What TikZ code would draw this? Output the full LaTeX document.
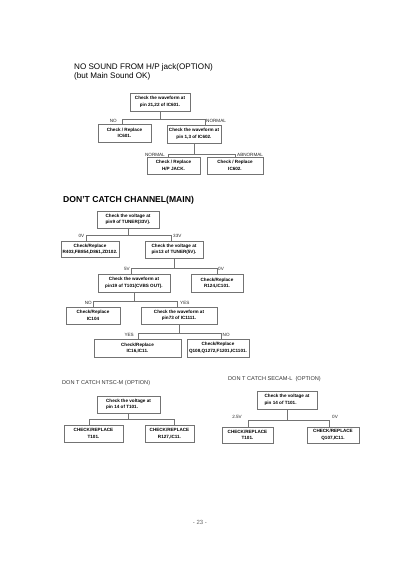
\documentclass[tikz,border=0pt]{standalone}
\usepackage{fontspec}
\setmainfont{Liberation Sans}
\begin{document}
\begin{tikzpicture}[x=1pt,y=-1pt,
  box/.style={draw=black!55, line width=0.6pt, fill=white, align=center, inner sep=0pt, font=\fontsize{4.6}{6.6}\selectfont\bfseries},
  conn/.style={draw=black!55, line width=0.6pt},
  lbl/.style={inner sep=0pt, font=\fontsize{4.6}{5}\selectfont, text=black!85},
  ttl/.style={anchor=base west, inner sep=0pt},
]
\useasboundingbox[fill=white] (0,0) rectangle (400,566);

% ---------- Section 1 ----------
\node[ttl, font=\fontsize{8.1}{9}\selectfont] (t1) at (74,69) {NO SOUND FROM H/P jack(OPTION)};
\node[ttl, font=\fontsize{8.1}{9}\selectfont] (t1b) at (74,78) {(but Main Sound OK)};

\node[box, minimum width=60pt, minimum height=18pt] (A) at (160,102) {Check the waveform at\\pin 21,22 of IC601.};
\node[box, minimum width=53pt, minimum height=18pt] (Bl) at (124.5,133) {Check / Replace\\IC601.};
\node[box, minimum width=54pt, minimum height=18pt] (B) at (194,134) {Check the waveform at\\pin 1,3 of IC602.};
\node[box, minimum width=53pt, minimum height=17pt] (C) at (173.5,165.5) {Check / Replace\\H/P JACK.};
\node[box, minimum width=56pt, minimum height=17pt] (D) at (235,165.5) {Check / Replace\\IC602.};

\coordinate (a1) at (122,119); \coordinate (a2) at (205,119);
\draw[conn] (A.south) -- (A.south |- a1);
\draw[conn] (a1) -- (a2);
\draw[conn] (a1) -- (a1 |- Bl.north);
\draw[conn] (a2) -- (a2 |- B.north);
\node[lbl, anchor=east] (lno1) at ([xshift=-5pt, yshift=-1.5pt]a1) {NO};
\node[lbl, anchor=west] (lnorm1) at ([xshift=1pt, yshift=-1.5pt]a2) {NORMAL};

\coordinate (b1) at (168,154); \coordinate (b2) at (235,154);
\draw[conn] (B.south) -- (B.south |- b1);
\draw[conn] (b1) -- (b2);
\draw[conn] (b1) -- (b1 |- C.north);
\draw[conn] (b2) -- (b2 |- D.north);
\node[lbl, anchor=east] (lnorm2) at ([xshift=-3pt, yshift=-1pt]b1) {NORMAL};
\node[lbl, anchor=west] (labn) at ([xshift=2pt, yshift=-1pt]b2) {ABNORMAL};

% ---------- Section 2 ----------
\node[ttl, font=\bfseries\fontsize{8.6}{10}\selectfont] (t2) at (63,202) {DON'T CATCH CHANNEL(MAIN)};

\node[box, minimum width=62pt, minimum height=17pt] (E) at (128,219.5) {Check the voltage at\\pin9 of TUNER(33V).};
\node[box, minimum width=58pt, minimum height=16pt] (F) at (90,249) {Check/Replace\\R403,FB854,D861,ZD102.};
\node[box, minimum width=58pt, minimum height=17pt] (G) at (174,249.5) {Check the voltage at\\pin13 of TUNER(5V).};
\node[box, minimum width=72pt, minimum height=18pt] (H) at (134,283) {Check the waveform at\\pin19 of T101(CVBS OUT).};
\node[box, minimum width=52pt, minimum height=18pt] (I) at (217,283) {Check/Replace\\R124,IC101.};
\node[box, minimum width=54pt, minimum height=17pt] (J) at (93,315.5) {Check/Replace\\IC104};
\node[box, minimum width=76pt, minimum height=17pt] (K) at (179,315.5) {Check the waveform at\\pin73 of IC1111.};
\node[box, minimum width=87pt, minimum height=18pt] (L) at (137.5,348) {Check/Replace\\IC16,IC11.};
\node[box, minimum width=62pt, minimum height=18pt] (M) at (218,348) {Check/Replace\\Q108,Q1272,F1201,IC1101.};

\coordinate (e1) at (86,235); \coordinate (e2) at (171,235);
\draw[conn] (E.south) -- (E.south |- e1);
\draw[conn] (e1) -- (e2);
\draw[conn] (e1) -- (e1 |- F.north);
\draw[conn] (e2) -- (e2 |- G.north);
\node[lbl, anchor=east] (l0v1) at ([xshift=-1.5pt, yshift=-0.5pt]e1) {0V};
\node[lbl, anchor=west] (l33v) at ([xshift=2pt, yshift=-0.5pt]e2) {33V};

\coordinate (g1) at (131,268); \coordinate (g2) at (217,268);
\draw[conn] (G.south) -- (G.south |- g1);
\draw[conn] (g1) -- (g2);
\draw[conn] (g1) -- (g1 |- H.north);
\draw[conn] (g2) -- (g2 |- I.north);
\node[lbl, anchor=east] (l5v) at ([xshift=-1pt, yshift=-1pt]g1) {5V};
\node[lbl, anchor=west] (l0v2) at ([xshift=1pt, yshift=-1pt]g2) {0V};

\coordinate (h1) at (93,301); \coordinate (h2) at (177,301);
\draw[conn] (H.south) -- (H.south |- h1);
\draw[conn] (h1) -- (h2);
\draw[conn] (h1) -- (h1 |- J.north);
\draw[conn] (h2) -- (h2 |- K.north);
\node[lbl, anchor=east] (lno2) at ([xshift=-1pt, yshift=-1.5pt]h1) {NO};
\node[lbl, anchor=west] (lyes1) at ([xshift=3pt, yshift=-1.5pt]h2) {YES};

\coordinate (k1) at (138,333); \coordinate (k2) at (221,333);
\draw[conn] (K.south) -- (K.south |- k1);
\draw[conn] (k1) -- (k2);
\draw[conn] (k1) -- (k1 |- L.north);
\draw[conn] (k2) -- (k2 |- M.north);
\node[lbl, anchor=east] (lyes2) at ([xshift=-4pt, yshift=-1.5pt]k1) {YES};
\node[lbl, anchor=west] (lno3) at ([xshift=1.5pt, yshift=-1.5pt]k2) {NO};

% ---------- Section 3 left ----------
\node[ttl, font=\fontsize{5.6}{7}\selectfont, text=black!80] (t3) at (62,384) {DON T CATCH NTSC-M (OPTION)};
\node[box, align=left, minimum width=63pt, minimum height=17pt] (N) at (128.5,404.5) {Check the voltage at\\pin 14 of T101.};
\node[box, minimum width=59pt, minimum height=17pt] (O) at (93.5,433.5) {CHECK/REPLACE\\T101.};
\node[box, minimum width=49pt, minimum height=17pt] (P) at (169.5,433.5) {CHECK/REPLACE\\R127,IC11.};
\coordinate (n1) at (89,419); \coordinate (n2) at (174,419);
\draw[conn] (N.south) -- (N.south |- n1);
\draw[conn] (n1) -- (n2);
\draw[conn] (n1) -- (n1 |- O.north);
\draw[conn] (n2) -- (n2 |- P.north);

% ---------- Section 3 right ----------
\node[ttl, font=\fontsize{5.6}{7}\selectfont, text=black!80] (t4) at (228,380) {DON T CATCH SECAM-L\ \ (OPTION)};
\node[box, align=left, minimum width=60pt, minimum height=18pt] (Q) at (287,400) {Check the voltage at\\pin 14 of T101.};
\node[box, minimum width=51pt, minimum height=16pt] (R) at (247.5,435) {CHECK/REPLACE\\T101.};
\node[box, minimum width=52pt, minimum height=16pt] (S) at (333,435) {CHECK/REPLACE\\Q107,IC11.};
\coordinate (q1) at (248,420); \coordinate (q2) at (329,420);
\draw[conn] (Q.south) -- (Q.south |- q1);
\draw[conn] (q1) -- (q2);
\draw[conn] (q1) -- (q1 |- R.north);
\draw[conn] (q2) -- (q2 |- S.north);
\node[lbl, anchor=east] (l25v) at ([xshift=-6pt, yshift=3pt]q1) {2.5V};
\node[lbl, anchor=west] (l0v3) at ([xshift=3pt, yshift=3pt]q2) {0V};

% page number
\node[inner sep=0pt, font=\fontsize{6}{7}\selectfont, text=black!60] (pg) at (200,522) {- 23 -};
\end{tikzpicture}
\end{document}
